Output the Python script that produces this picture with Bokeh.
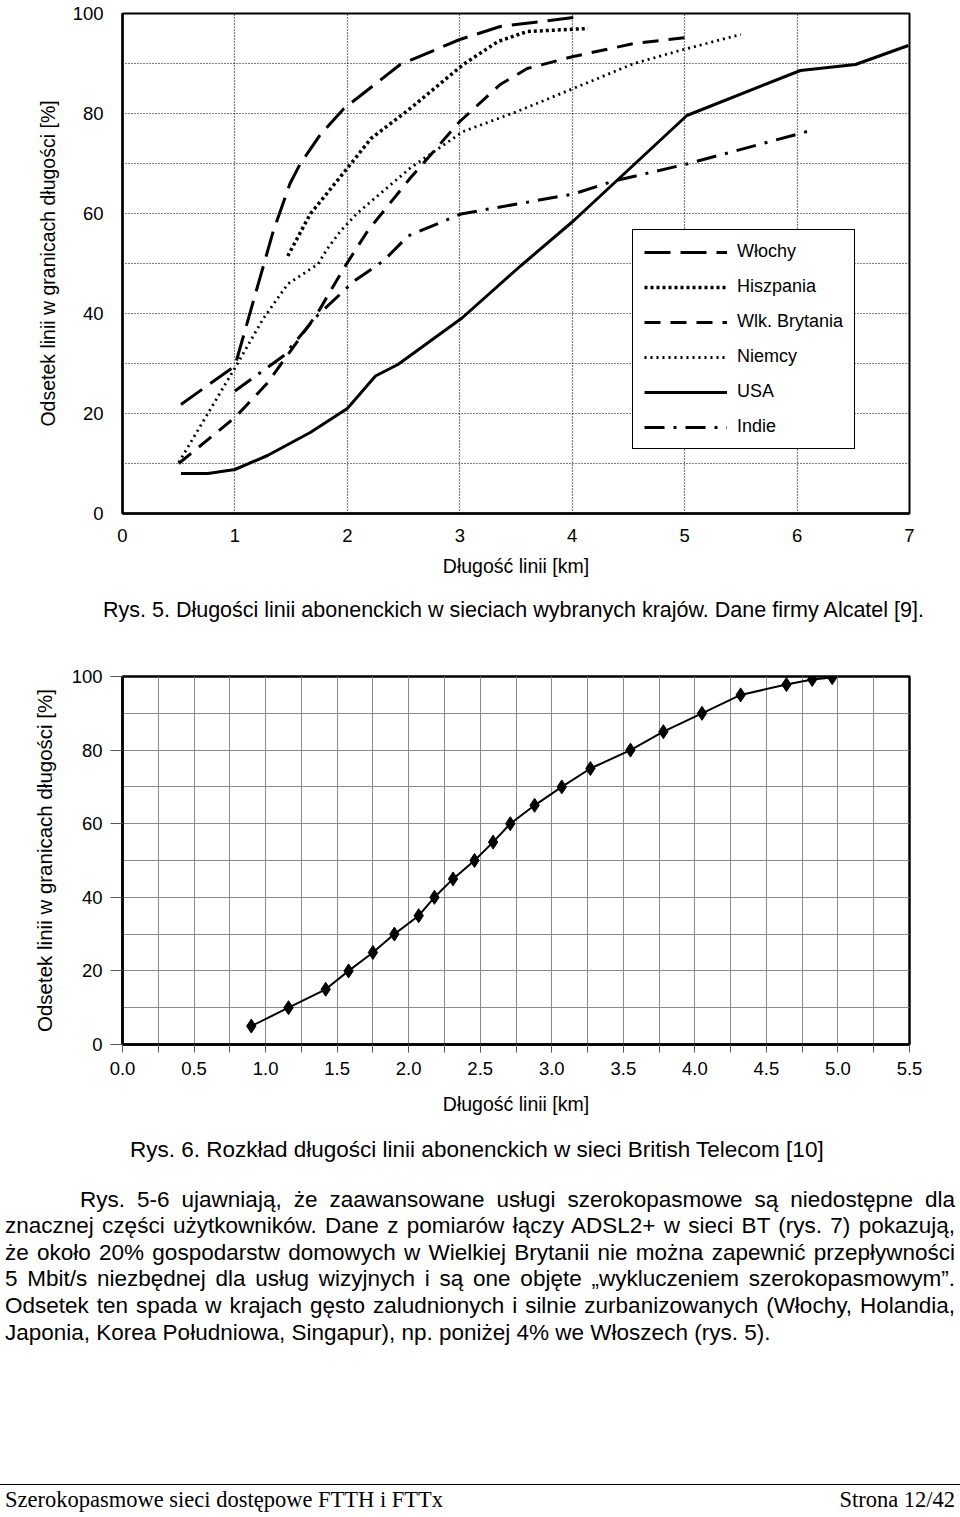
from bokeh.plotting import figure
from bokeh.models import Range1d, FixedTicker, Legend, LegendItem, Div, PrintfTickFormatter
from bokeh.layouts import column
from bokeh.embed import file_html
from bokeh.resources import INLINE

# ---------------- data: Rys. 5 ----------------
top_x_ticks = [0, 1, 2, 3, 4, 5, 6, 7]
top_y_ticks = [0, 20, 40, 60, 80, 100]

wlochy_x = [0.52, 1.00, 1.34, 1.49, 1.58, 1.76, 1.97, 2.47, 3.00, 3.36, 4.01]
wlochy_y = [21.8, 29.5, 56.4, 66.0, 69.9, 75.8, 81.0, 89.8, 94.8, 97.4, 99.2]

hiszpania_x = [1.47, 1.67, 2.03, 2.21, 2.56, 3.03, 3.34, 3.60, 4.14]
hiszpania_y = [51.5, 59.9, 69.9, 75.0, 81.0, 89.8, 94.4, 96.4, 97.0]

brytania_x = [0.50, 1.00, 1.29, 1.73, 1.97, 2.18, 2.56, 3.00, 3.36, 3.60, 4.01, 4.55, 5.02]
brytania_y = [10.0, 19.2, 26.1, 39.9, 49.1, 56.5, 67.1, 78.4, 85.8, 89.0, 91.4, 94.0, 95.2]

niemcy_x = [0.50, 1.00, 1.25, 1.47, 1.74, 1.82, 1.94, 2.09, 2.56, 3.03, 3.51, 4.01, 4.55, 4.99, 5.50]
niemcy_y = [10.2, 29.1, 38.9, 45.9, 49.9, 52.9, 56.5, 60.1, 69.1, 76.4, 80.4, 85.0, 90.0, 92.8, 95.8]

usa_x = [0.52, 0.76, 1.00, 1.29, 1.67, 2.00, 2.25, 2.45, 3.02, 3.54, 4.01, 5.02, 6.03, 6.52, 6.99]
usa_y = [8.0, 8.0, 8.8, 11.6, 16.2, 21.0, 27.5, 29.8, 39.1, 49.5, 58.5, 79.6, 88.6, 89.8, 93.6]

indie_x = [1.00, 1.43, 1.73, 2.06, 2.32, 2.54, 3.01, 4.01, 4.37, 5.02, 6.09]
indie_y = [24.5, 31.5, 39.5, 46.5, 50.5, 55.5, 59.9, 63.9, 66.5, 69.9, 76.4]

series_names = ["Włochy", "Hiszpania", "Wlk. Brytania", "Niemcy", "USA", "Indie"]

# ---------------- data: Rys. 6 ----------------
bt_x_ticks = [0.0, 0.5, 1.0, 1.5, 2.0, 2.5, 3.0, 3.5, 4.0, 4.5, 5.0, 5.5]
bt_y_ticks = [0, 20, 40, 60, 80, 100]
bt_x = [0.90, 1.16, 1.42, 1.58, 1.75, 1.90, 2.07, 2.18, 2.31, 2.46, 2.59, 2.71,
        2.88, 3.07, 3.27, 3.55, 3.78, 4.05, 4.32, 4.64, 4.82, 4.96]
bt_y = [5, 10, 15, 20, 25, 30, 35, 40, 45, 50, 55, 60,
        65, 70, 75, 80, 85, 90, 95, 97.8, 99.2, 99.7]

FONT = "Liberation Sans"

# ---------------- figure 1 ----------------
p1 = figure(width=960, height=585, x_range=Range1d(0, 7), y_range=Range1d(0, 100),
            output_backend="svg", toolbar_location=None,
            min_border_left=122, min_border_right=51, min_border_top=13, min_border_bottom=72)
p1.outline_line_color = "black"
p1.outline_line_width = 2
p1.outline_line_alpha = 1

p1.xaxis.ticker = FixedTicker(ticks=top_x_ticks)
p1.yaxis.ticker = FixedTicker(ticks=top_y_ticks)
p1.xgrid.ticker = FixedTicker(ticks=top_x_ticks[1:-1])
p1.ygrid.ticker = FixedTicker(ticks=[v for v in range(10, 100, 10)])
for g in (p1.xgrid, p1.ygrid):
    g.grid_line_color = "black"
    g.grid_line_dash = "1 2"
    g.grid_line_width = 1.2
    g.grid_line_alpha = 1

for ax in (p1.xaxis[0], p1.yaxis[0]):
    ax.axis_line_color = "black"
    ax.axis_line_width = 2.5
    ax.major_tick_in = 0
    ax.major_tick_out = 0
    ax.minor_tick_in = 0
    ax.minor_tick_out = 0
    ax.major_label_text_font = FONT
    ax.major_label_text_font_size = "18.5px"
    ax.major_label_text_color = "black"
    ax.axis_label_text_font = FONT
    ax.axis_label_text_font_style = "normal"
    ax.axis_label_text_color = "black"
    ax.axis_label_text_font_size = "19.5px"

p1.xaxis.major_label_standoff = 15
p1.xaxis.axis_label = "Długość linii [km]"
p1.xaxis.axis_label_standoff = 10
p1.yaxis.major_label_standoff = 19
p1.yaxis.axis_label = "Odsetek linii w granicach długości [%]"
p1.yaxis.axis_label_standoff = 11

r_w = p1.line(wlochy_x, wlochy_y, line_color="black", line_width=3, line_dash="26 10")
r_h = p1.line(hiszpania_x, hiszpania_y, line_color="black", line_width=3.5, line_dash="3 3")
r_b = p1.line(brytania_x, brytania_y, line_color="black", line_width=3, line_dash="16 10")
r_n = p1.line(niemcy_x, niemcy_y, line_color="black", line_width=2.8, line_dash="2 4")
r_u = p1.line(usa_x, usa_y, line_color="black", line_width=3)
r_i = p1.line(indie_x, indie_y, line_color="black", line_width=3, line_dash="20 9 3 9")

legend = Legend(items=[LegendItem(label=n, renderers=[r]) for n, r in
                       zip(series_names, [r_w, r_h, r_b, r_n, r_u, r_i])],
                location=(510, 64))
legend.label_text_font = FONT
legend.label_text_font_size = "18px"
legend.label_text_color = "black"
legend.glyph_width = 83
legend.glyph_height = 20
legend.label_height = 20
legend.spacing = 14
legend.padding = 11
legend.margin = 0
legend.label_standoff = 10
legend.border_line_color = "black"
legend.border_line_alpha = 1
legend.border_line_width = 1.5
legend.background_fill_alpha = 1
p1.add_layout(legend)

# ---------------- figure 2 ----------------
p2 = figure(width=960, height=490, x_range=Range1d(0, 5.5), y_range=Range1d(0, 100),
            output_backend="svg", toolbar_location=None,
            min_border_left=122, min_border_right=51, min_border_top=41, min_border_bottom=81)
p2.outline_line_color = "black"
p2.outline_line_width = 2.5
p2.outline_line_alpha = 1

p2.xaxis.ticker = FixedTicker(ticks=bt_x_ticks,
                              minor_ticks=[0.25 + 0.5 * i for i in range(11)])
p2.xaxis.formatter = PrintfTickFormatter(format="%.1f")
p2.yaxis.ticker = FixedTicker(ticks=bt_y_ticks)
p2.xgrid.ticker = FixedTicker(ticks=[0.25 * i for i in range(1, 22)])
p2.ygrid.ticker = FixedTicker(ticks=[v for v in range(10, 100, 10)])
for g in (p2.xgrid, p2.ygrid):
    g.grid_line_color = "#8a8a8a"
    g.grid_line_width = 1

for ax in (p2.xaxis[0], p2.yaxis[0]):
    ax.axis_line_color = "black"
    ax.axis_line_width = 2.5
    ax.major_tick_in = 0
    ax.minor_tick_in = 0
    ax.major_tick_line_color = "#555555"
    ax.minor_tick_line_color = "#555555"
    ax.major_label_text_font = FONT
    ax.major_label_text_font_size = "18.5px"
    ax.major_label_text_color = "black"
    ax.axis_label_text_font = FONT
    ax.axis_label_text_font_style = "normal"
    ax.axis_label_text_color = "black"

p2.yaxis.major_tick_out = 12
p2.yaxis.minor_tick_out = 0
p2.yaxis.major_label_standoff = 8
p2.yaxis.axis_label = "Odsetek linii w granicach długości [%]"
p2.yaxis.axis_label_text_font_size = "20.5px"
p2.yaxis.axis_label_standoff = 13
p2.xaxis.major_tick_out = 8
p2.xaxis.minor_tick_out = 8
p2.xaxis.major_label_standoff = 9
p2.xaxis.axis_label = "Długość linii [km]"
p2.xaxis.axis_label_text_font_size = "19.5px"
p2.xaxis.axis_label_standoff = 15

p2.line(bt_x, bt_y, line_color="black", line_width=2)
p2.scatter(bt_x, bt_y, marker="diamond", size=14, color="black")

# ---------------- text blocks ----------------
TXT = "font-family:'Liberation Sans',Arial,sans-serif;color:#000;"

cap1 = Div(width=960, height=50, margin=0, text=(
    f"<div style=\"{TXT}font-size:21.5px;line-height:50px;padding-left:103px;white-space:nowrap;\">"
    "Rys. 5. Długości linii abonenckich w sieciach wybranych krajów. Dane firmy Alcatel [9].</div>"))

cap2 = Div(width=960, height=50, margin=0, text=(
    f"<div style=\"{TXT}font-size:22.5px;line-height:50px;padding-left:130px;white-space:nowrap;\">"
    "Rys. 6. Rozkład długości linii abonenckich w sieci British Telecom [10]</div>"))

para_lines = [
    "Rys. 5-6 ujawniają, że zaawansowane usługi szerokopasmowe są niedostępne dla",
    "znacznej części użytkowników. Dane z pomiarów łączy ADSL2+ w sieci BT (rys. 7) pokazują,",
    "że około 20% gospodarstw domowych w Wielkiej Brytanii nie można zapewnić przepływności",
    "5 Mbit/s niezbędnej dla usług wizyjnych i są one objęte „wykluczeniem szerokopasmowym”.",
    "Odsetek ten spada w krajach gęsto zaludnionych i silnie zurbanizowanych (Włochy, Holandia,",
    "Japonia, Korea Południowa, Singapur), np. poniżej 4% we Włoszech (rys. 5).",
]
rows = []
for i, ln in enumerate(para_lines):
    st = "white-space:nowrap;"
    if i < len(para_lines) - 1:
        st = "text-align:justify;text-align-last:justify;"
    if i == 0:
        st += "text-indent:75px;"
    rows.append(f"<div style=\"{st}\">{ln}</div>")
para = Div(width=960, height=301, margin=0, text=(
    f"<div style=\"{TXT}font-size:22.5px;line-height:26.6px;margin-left:5px;width:950px;padding-top:11.7px;\">"
    + "".join(rows) + "</div>"))

footer = Div(width=960, height=40, margin=0, text=(
    "<div style=\"margin-top:8px;width:960px;border-top:1px solid #000;height:0;\"></div>"
    "<div style=\"font-family:'Liberation Serif','Times New Roman',serif;color:#000;font-size:22.5px;"
    "line-height:30px;margin-left:5px;width:950px;display:flex;justify-content:space-between;white-space:nowrap;\">"
    "<span>Szerokopasmowe sieci dostępowe FTTH i FTTx</span><span>Strona 12/42</span></div>"))

layout = column(p1, cap1, p2, cap2, para, footer, spacing=0)

with open("out.html", "w") as f:
    f.write(file_html(layout, INLINE))
